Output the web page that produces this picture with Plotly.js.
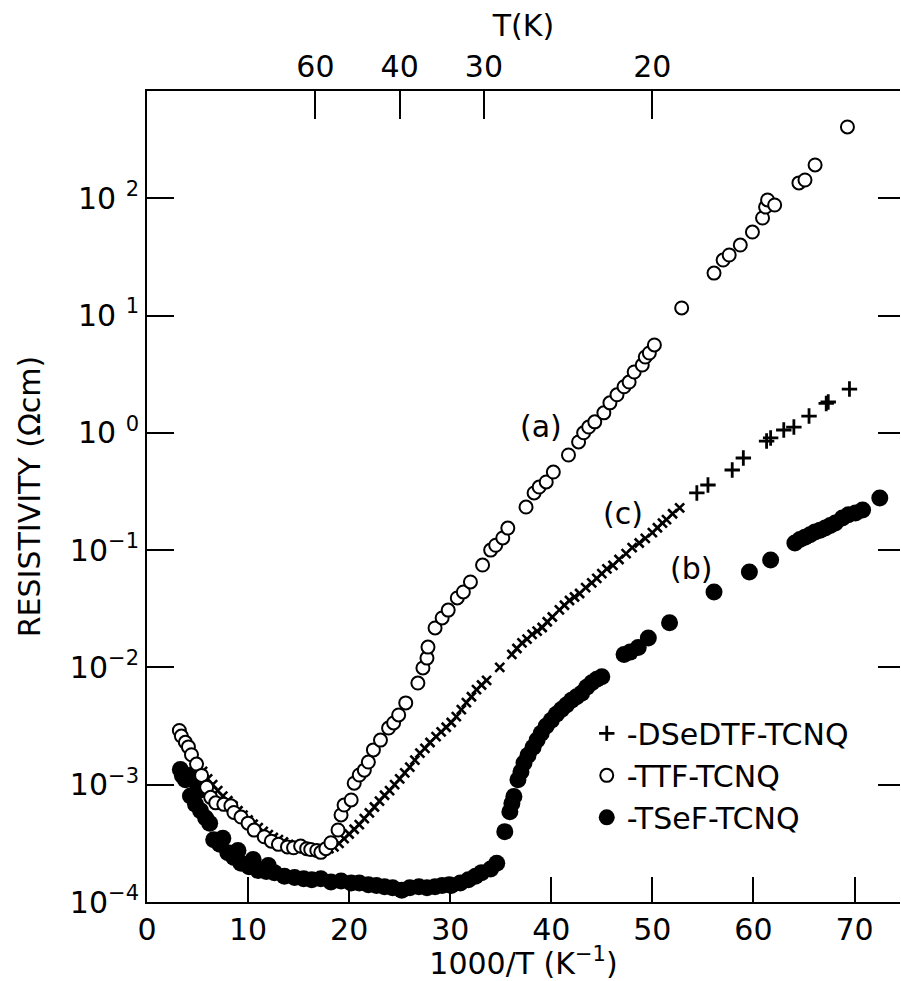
<!DOCTYPE html>
<html>
<head>
<meta charset="utf-8">
<script src="https://cdn.plot.ly/plotly-3.0.1.min.js"></script>
<style>html,body{margin:0;padding:0;background:#fff;}#chart{width:901px;height:981px;}</style>
</head>
<body>
<div id="chart"></div>
<script>
// ---------------- data ----------------
// x = 1000/T (K^-1), y = resistivity (ohm cm)
const ttfX = [3.2,3.4,3.8,4.1,4.4,4.9,5.4,5.9,6.3,6.8,7.6,8.3,8.6,9.3,10.0,10.6,11.6,12.3,13.0,13.9,14.5,15.2,15.8,16.2,16.8,17.2,17.7,18.2,
  18.9,19.2,19.5,20.2,20.5,21.0,21.5,21.9,22.4,23.1,23.9,24.4,24.9,25.6,26.8,27.3,27.7,27.8,28.5,29.2,29.8,30.7,31.3,32.0,33.2,34.0,34.5,35.2,35.7,
  37.5,38.3,38.8,39.5,40.2,41.7,42.7,43.2,43.7,44.3,45.2,45.8,46.5,47.2,47.7,48.2,49.0,49.3,49.7,50.2,
  52.9,56.1,57.0,57.6,58.7,59.9,60.9,61.2,61.4,62.1,64.5,65.1,66.1,69.3];
const ttfY = [2.9e-3,2.6e-3,2.3e-3,2.1e-3,1.8e-3,1.5e-3,1.2e-3,9.5e-4,7.8e-4,7.0e-4,6.8e-4,6.6e-4,5.8e-4,5.3e-4,4.7e-4,4.1e-4,3.6e-4,3.3e-4,3.1e-4,2.95e-4,2.9e-4,3.0e-4,2.85e-4,2.8e-4,2.75e-4,2.65e-4,2.85e-4,3.2e-4,
  4.11e-4,5.52e-4,6.71e-4,7.41e-4,1.03e-3,1.21e-3,1.33e-3,1.56e-3,1.98e-3,2.40e-3,3.04e-3,3.36e-3,3.93e-3,4.98e-3,7.36e-3,9.89e-3,1.20e-2,1.49e-2,2.17e-2,2.64e-2,3.08e-2,3.91e-2,4.40e-2,5.35e-2,7.46e-2,0.100,0.110,0.127,0.154,
  0.233,0.307,0.345,0.381,0.463,0.647,0.836,1.00,1.12,1.24,1.48,1.80,2.11,2.47,2.71,3.30,3.78,4.43,4.79,5.61,
  11.6,23.0,29.7,32.8,39.9,51.5,67.8,84.1,96.6,87.5,135,143,192,405];

const dsedtfX = [3.3,3.6,4.0,4.5,5.0,5.5,6.0,6.5,7.0,7.5,8.0,8.5,9.0,9.5,10.0,10.5,11.0,11.5,12.0,12.5,13.0,13.5,14.0,14.5,15.0,15.5,16.0,16.5,17.0,17.5,18.0,
  18.5,19.0,19.5,20.0,20.5,21.0,21.5,22.0,22.5,23.0,23.5,24.0,24.5,25.0,25.5,26.0,26.5,27.0,27.5,28.0,28.6,29.1,29.6,30.1,30.6,31.1,31.6,32.1,32.6,33.1,33.6,
  34.9,36.1,36.6,37.1,37.6,38.1,38.6,39.1,39.6,40.1,40.8,41.3,41.8,42.3,42.8,43.4,44.0,44.5,45.0,45.5,46.1,46.7,47.4,48.0,48.7,49.3,50.0,50.5,51.0,51.4,52.0,52.7,
  54.4,55.5,57.9,59.0,61.3,61.7,63.0,64.0,65.5,67.2,67.4,69.5];
const dsedtfY = [2.6e-3,2.4e-3,2.1e-3,1.8e-3,1.5e-3,1.3e-3,1.12e-3,1.0e-3,8.9e-4,8.0e-4,7.3e-4,6.6e-4,6.0e-4,5.5e-4,5.0e-4,4.6e-4,4.3e-4,4.0e-4,3.75e-4,3.55e-4,3.4e-4,3.25e-4,3.1e-4,3.0e-4,2.92e-4,2.85e-4,2.8e-4,2.78e-4,2.75e-4,2.78e-4,2.85e-4,
  2.95e-4,3.16e-4,3.47e-4,3.80e-4,4.17e-4,4.57e-4,5.13e-4,5.75e-4,6.46e-4,7.24e-4,8.13e-4,8.91e-4,1.0e-3,1.12e-3,1.26e-3,1.41e-3,1.62e-3,1.86e-3,2.04e-3,2.29e-3,2.57e-3,2.82e-3,3.09e-3,3.39e-3,3.80e-3,4.37e-3,5.01e-3,5.62e-3,6.46e-3,7.08e-3,7.76e-3,
  1.0e-2,1.29e-2,1.45e-2,1.62e-2,1.74e-2,1.91e-2,2.04e-2,2.19e-2,2.45e-2,2.69e-2,3.09e-2,3.39e-2,3.72e-2,3.98e-2,4.27e-2,4.79e-2,5.25e-2,5.75e-2,6.31e-2,6.92e-2,7.41e-2,8.32e-2,9.33e-2,0.105,0.115,0.126,0.141,0.155,0.170,0.182,0.204,0.229,
  0.307,0.359,0.482,0.610,0.851,0.904,1.057,1.12,1.39,1.78,1.83,2.36];

const tsefX = [3.3,3.5,3.8,4.2,4.6,5.0,5.3,4.3,4.8,5.3,5.8,6.2,
  6.6,7.2,7.5,8.0,8.6,9.0,9.3,10.1,10.5,11.0,11.8,12.0,12.6,13.6,14.6,15.5,16.3,17.2,18.2,19.2,20.2,21.0,21.9,22.7,23.5,24.3,25.2,26.0,26.9,27.7,28.5,29.2,29.9,30.1,31.0,31.8,32.5,33.1,34.0,34.6,
  35.4,35.9,36.1,36.3,36.7,37.0,37.3,37.7,38.2,38.6,39.0,39.5,40.0,40.5,41.0,41.5,42.0,42.5,43.0,43.5,44.0,44.5,45.0,
  47.2,47.8,48.6,49.6,51.7,56.1,59.6,61.7,64.1,64.6,65.1,65.6,66.1,66.6,67.1,67.6,68.1,68.8,69.4,70.1,70.8,72.5];
const tsefY = [1.35e-3,1.2e-3,1.1e-3,1.2e-3,1.1e-3,1.0e-3,9.0e-4,8.0e-4,6.8e-4,6.0e-4,5.2e-4,4.7e-4,
  3.39e-4,3.1e-4,3.5e-4,2.63e-4,2.40e-4,2.75e-4,2.14e-4,2.0e-4,2.3e-4,1.86e-4,1.82e-4,2.05e-4,1.78e-4,1.66e-4,1.62e-4,1.58e-4,1.55e-4,1.58e-4,1.48e-4,1.51e-4,1.45e-4,1.45e-4,1.40e-4,1.38e-4,1.35e-4,1.32e-4,1.26e-4,1.32e-4,1.35e-4,1.32e-4,1.35e-4,1.38e-4,1.40e-4,1.38e-4,1.45e-4,1.55e-4,1.66e-4,1.78e-4,1.91e-4,2.14e-4,
  3.98e-4,5.89e-4,6.92e-4,7.94e-4,1.10e-3,1.29e-3,1.53e-3,1.78e-3,2.09e-3,2.40e-3,2.75e-3,3.16e-3,3.55e-3,3.98e-3,4.37e-3,4.79e-3,5.25e-3,5.62e-3,6.03e-3,6.76e-3,7.41e-3,7.94e-3,8.32e-3,
  1.29e-2,1.35e-2,1.48e-2,1.78e-2,2.40e-2,4.40e-2,6.50e-2,8.24e-2,0.115,0.123,0.129,0.135,0.143,0.148,0.154,0.162,0.170,0.188,0.200,0.207,0.220,0.278];

const xTickVals = [0,10,20,30,40,50,60,70];
const xTickText = ['0','10','20','30','40','50','60','70'];
const tempTicksK = [60,40,30,20];          // top axis, T in K
const yTickVals = [1e-4,1e-3,1e-2,1e-1,1e0,1e1,1e2];
const yTickText = ['10<sup>−4</sup>','10<sup>−3</sup>','10<sup>−2</sup>','10<sup>−1</sup>','10 <sup>0</sup>','10 <sup>1</sup>','10 <sup>2</sup>'];
const crossFrom = 53;   // above this 1000/T the DSeDTF marks are drawn as upright crosses

// ---------------- traces ----------------
const sparseX = [], sparseY = [], denseX = [], denseY = [];
dsedtfX.forEach((x, i) => {
  if (x >= crossFrom) { sparseX.push(x); sparseY.push(dsedtfY[i]); }
  else { denseX.push(x); denseY.push(dsedtfY[i]); }
});

const traces = [
  {x: tsefX, y: tsefY, type: 'scatter', mode: 'markers', name: '-TSeF-TCNQ', legendrank: 3,
   marker: {symbol: 'circle', size: 17, color: 'black', line: {width: 0}}},
  {x: denseX, y: denseY, type: 'scatter', mode: 'markers', name: 'DSeDTF dense', showlegend: false,
   marker: {symbol: 'x-thin', size: 9, color: 'black', line: {width: 2.6, color: 'black'}}},
  {x: sparseX, y: sparseY, type: 'scatter', mode: 'markers', name: '-DSeDTF-TCNQ', legendrank: 1,
   marker: {symbol: 'cross-thin', size: 11, color: 'black', line: {width: 2.8, color: 'black'}}},
  {x: ttfX, y: ttfY, type: 'scatter', mode: 'markers', name: '-TTF-TCNQ', legendrank: 2,
   marker: {symbol: 'circle', size: 13, color: 'white', line: {width: 2, color: 'black'}}},
  // empty traces so the top and right axes get drawn
  {x: [], y: [], xaxis: 'x2', yaxis: 'y', showlegend: false, hoverinfo: 'skip'},
  {x: [], y: [], xaxis: 'x', yaxis: 'y2', showlegend: false, hoverinfo: 'skip'}
];

const XR = [0, 74.5];
const YR = [-4, 2.914];
const axisCommon = {showgrid: false, zeroline: false, showline: true, linecolor: 'black', linewidth: 2,
  ticks: 'inside', tickcolor: 'black', tickwidth: 2};

const layout = {
  width: 901, height: 981,
  margin: {l: 147, r: 1, t: 91, b: 79},
  paper_bgcolor: 'white', plot_bgcolor: 'white',
  font: {family: 'DejaVu Sans, Liberation Sans, sans-serif', color: 'black', size: 30},
  showlegend: true,
  xaxis: Object.assign({}, axisCommon, {
    range: XR, tickmode: 'array', tickvals: xTickVals, ticktext: xTickText, ticklen: 25,
    tickfont: {size: 30}, title: {text: '1000/T (K<sup>−1</sup>)', font: {size: 30}, standoff: 4}
  }),
  xaxis2: Object.assign({}, axisCommon, {
    overlaying: 'x', side: 'top', anchor: 'y', range: XR, tickmode: 'array',
    tickvals: tempTicksK.map(t => 1000 / t), ticktext: tempTicksK.map(String), ticklen: 28,
    tickfont: {size: 30}, title: {text: 'T(K)', font: {size: 30}, standoff: 4}
  }),
  yaxis: Object.assign({}, axisCommon, {
    type: 'log', range: YR, tickmode: 'array', tickvals: yTickVals, ticktext: yTickText, ticklen: 27,
    tickfont: {size: 30}, title: {text: 'RESISTIVITY (Ωcm)', font: {size: 30}, standoff: 20}
  }),
  yaxis2: {
    type: 'log', overlaying: 'y', side: 'right', anchor: 'x', range: YR, tickmode: 'array',
    tickvals: yTickVals.slice(1), ticks: 'inside', ticklen: 22, tickwidth: 2, tickcolor: 'black',
    showticklabels: false, showline: false, showgrid: false, zeroline: false
  },
  legend: {x: 0.584, y: 0.24, xanchor: 'left', yanchor: 'top', bgcolor: 'rgba(0,0,0,0)',
    font: {size: 30, color: 'black'}, borderwidth: 0, tracegroupgap: 0},
  annotations: [
    {text: '(a)', x: 39.0, y: 0.05, xref: 'x', yref: 'y', showarrow: false, font: {size: 30}},
    {text: '(c)', x: 47.1, y: -0.684, xref: 'x', yref: 'y', showarrow: false, font: {size: 30}},
    {text: '(b)', x: 53.8, y: -1.153, xref: 'x', yref: 'y', showarrow: false, font: {size: 30}}
  ]
};

Plotly.newPlot('chart', traces, layout, {displayModeBar: false, staticPlot: true});
</script>
</body>
</html>
